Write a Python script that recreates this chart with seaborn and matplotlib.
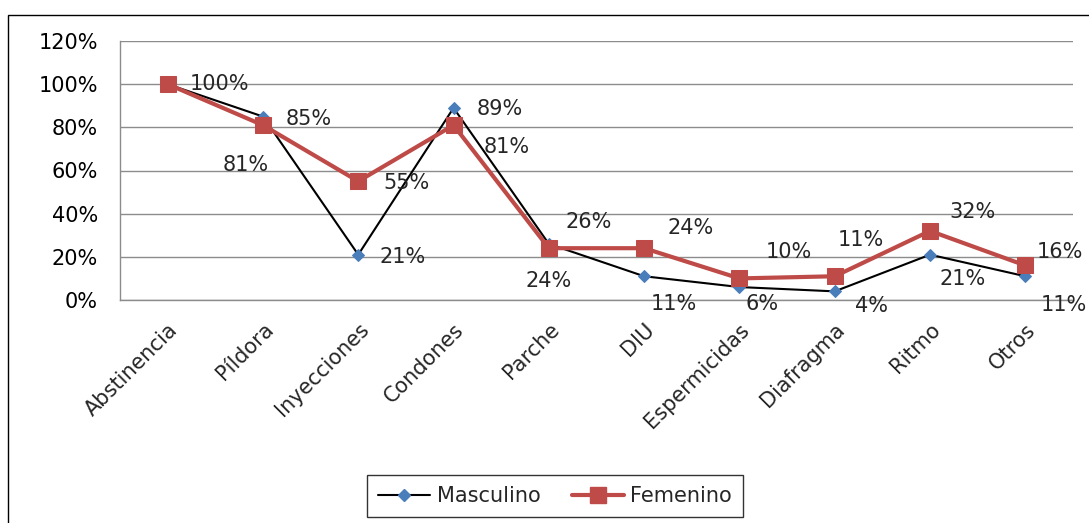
import matplotlib
matplotlib.use("Agg")
import matplotlib.pyplot as plt
import seaborn as sns
import pandas as pd
from matplotlib.lines import Line2D
from matplotlib.patches import Rectangle
from matplotlib.ticker import PercentFormatter

categorias = ["Abstinencia", "Píldora", "Inyecciones", "Condones", "Parche",
              "DIU", "Espermicidas", "Diafragma", "Ritmo", "Otros"]
masculino = [1.00, 0.85, 0.21, 0.89, 0.26, 0.11, 0.06, 0.04, 0.21, 0.11]
femenino = [1.00, 0.81, 0.55, 0.81, 0.24, 0.24, 0.10, 0.11, 0.32, 0.16]
etiquetas_m = ["100%", "85%", "21%", "89%", "26%", "11%", "6%", "4%", "21%", "11%"]
etiquetas_f = [None, "81%", "55%", "81%", "24%", "24%", "10%", "11%", "32%", "16%"]
yticks = [0, 0.2, 0.4, 0.6, 0.8, 1.0, 1.2]

# label offsets in pixels (style only)
off_m = [(52, 0), (46, -2), (44, -2), (46, -1), (40, 22), (30, -28),
         (23, -17), (37, -15), (33, -24), (38, -29)]
off_f = [None, (-17, -40), (48, -2), (53, -22), (0, -33), (46, 20),
         (49, 26), (26, 36), (42, 19), (35, 13)]

FS = 15

sns.set_style("white")
plt.rcParams["font.family"] = ["DejaVu Sans"]

fig = plt.figure(figsize=(10.89, 5.23), dpi=100)
ax = fig.add_axes([120 / 1089, 1 - 300 / 523, (1073 - 120) / 1089, 259 / 523])

df_m = pd.DataFrame({"cat": categorias, "val": masculino})
df_f = pd.DataFrame({"cat": categorias, "val": femenino})

c_m_line = "black"
c_m_mark = "#4a7ebb"
c_f = "#be4b48"

sns.lineplot(data=df_m, x="cat", y="val", sort=False, ax=ax, color=c_m_line,
             linewidth=1.5, marker="D", markersize=6.5, markerfacecolor=c_m_mark,
             markeredgecolor=c_m_mark, zorder=3)
sns.lineplot(data=df_f, x="cat", y="val", sort=False, ax=ax, color=c_f,
             linewidth=3, marker="s", markersize=11, markerfacecolor=c_f,
             markeredgecolor=c_f, zorder=4)

ax.set_xlim(-0.5, 9.5)
ax.set_ylim(0, 1.2)
ax.set_yticks(yticks)
ax.yaxis.set_major_formatter(PercentFormatter(1.0, decimals=0))
ax.grid(axis="y", color="#8c8c8c", linewidth=1)
ax.set_axisbelow(True)
for s in ["top", "right"]:
    ax.spines[s].set_visible(False)
for s in ["left", "bottom"]:
    ax.spines[s].set_color("#8c8c8c")
    ax.spines[s].set_linewidth(1)
ax.tick_params(axis="y", length=0, pad=16, labelsize=FS, labelcolor="black")
ax.tick_params(axis="x", length=0, pad=14)
ax.set_xlabel("")
ax.set_ylabel("")
ax.set_xticks(range(len(categorias)))
ax.set_xticklabels(categorias, rotation=45, ha="right", va="top",
                   rotation_mode="anchor", fontsize=FS)

for i, (v, t, o) in enumerate(zip(masculino, etiquetas_m, off_m)):
    if t:
        ax.annotate(t, (i, v), xytext=o, textcoords="offset pixels",
                    ha="center", va="center", fontsize=FS, zorder=5,
                    annotation_clip=False)
for i, (v, t, o) in enumerate(zip(femenino, etiquetas_f, off_f)):
    if t:
        ax.annotate(t, (i, v), xytext=o, textcoords="offset pixels",
                    ha="center", va="center", fontsize=FS, zorder=5,
                    annotation_clip=False)

handles = [
    Line2D([], [], color=c_m_line, linewidth=1.5, marker="D", markersize=6.5,
           markerfacecolor=c_m_mark, markeredgecolor=c_m_mark),
    Line2D([], [], color=c_f, linewidth=3, marker="s", markersize=11,
           markerfacecolor=c_f, markeredgecolor=c_f),
]
leg = fig.legend(handles, ["Masculino", "Femenino"], loc="center",
                 bbox_to_anchor=(555 / 1089, 1 - 496 / 523), ncol=2,
                 fontsize=FS, frameon=True, fancybox=False, shadow=False,
                 handlelength=2.5, columnspacing=1.5, handletextpad=0.3,
                 borderpad=0.55, borderaxespad=0)
leg.get_frame().set_edgecolor("black")
leg.get_frame().set_linewidth(1)

fig.add_artist(Rectangle((8 / 1089, -0.05), 1.2, 1 - 15 / 523 + 0.05,
                         transform=fig.transFigure, fill=False,
                         edgecolor="black", linewidth=1))

fig.savefig("out.png", dpi=100)
